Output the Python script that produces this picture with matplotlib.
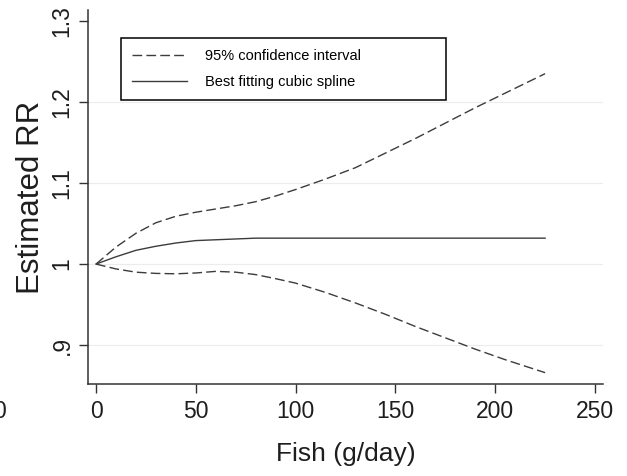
import matplotlib
matplotlib.use("Agg")
import matplotlib.pyplot as plt

# values
fish = [0, 10, 20, 30, 40, 50, 60, 70, 80, 90, 100, 115, 130, 145, 160, 175, 190, 205, 225]
ci_upper = [1.000, 1.021, 1.038, 1.051, 1.059, 1.064, 1.068, 1.072, 1.077, 1.084, 1.092,
            1.105, 1.119, 1.137, 1.155, 1.174, 1.193, 1.211, 1.235]
spline = [1.000, 1.009, 1.017, 1.022, 1.026, 1.029, 1.030, 1.031, 1.032, 1.032, 1.032,
          1.032, 1.032, 1.032, 1.032, 1.032, 1.032, 1.032, 1.032]
ci_lower = [1.000, 0.994, 0.990, 0.9885, 0.988, 0.989, 0.991, 0.990, 0.987, 0.982, 0.9765,
            0.965, 0.952, 0.938, 0.923, 0.909, 0.895, 0.882, 0.866]

xticks = [0, 50, 100, 150, 200, 250]
yticks = [0.9, 1.0, 1.1, 1.2, 1.3]
yticklabels = [".9", "1", "1.1", "1.2", "1.3"]

plt.rcParams['font.family'] = ['Liberation Sans', 'DejaVu Sans']

LINE = '#3c3c3c'
AXIS = '#333333'
TEXT = '#1e1e1e'

fig = plt.figure(figsize=(6.27, 4.76), dpi=100)
ax = fig.add_axes([0.1404, 0.1933, 0.8213, 0.7857])

ax.plot(fish, ci_upper, color=LINE, lw=1.0, dashes=(7, 3), label='95% confidence interval')
ax.plot(fish, ci_lower, color=LINE, lw=1.0, dashes=(7, 3))
ax.plot(fish, spline, color=LINE, lw=1.0, label='Best fitting cubic spline')

ax.set_xlim(-4, 254)
ax.set_ylim(0.852, 1.3136)

ax.set_xticks(xticks)
ax.set_yticks(yticks)
ax.set_yticklabels(yticklabels, rotation=90, va='center')

ax.grid(axis='y', color='#ececec', lw=0.8)
ax.get_ygridlines()[-1].set_visible(False)
ax.set_axisbelow(True)

for side in ['top', 'right']:
    ax.spines[side].set_visible(False)
for side in ['left', 'bottom']:
    ax.spines[side].set_color(AXIS)
    ax.spines[side].set_linewidth(1.1)

ax.tick_params(axis='both', colors=AXIS, length=6.5, width=1.0, labelsize=16.5,
               labelcolor=TEXT)
ax.tick_params(axis='x', pad=5)
ax.tick_params(axis='y', pad=4)

ax.set_xlabel('Fish (g/day)', fontsize=19, color=TEXT, labelpad=14)
ax.set_ylabel('Estimated RR', fontsize=22.5, color=TEXT, labelpad=3)

leg = ax.legend(loc='upper left', bbox_to_anchor=(0.064, 0.762, 0.631, 0.163),
                mode='expand', borderaxespad=0, fontsize=10.5, handlelength=3.8,
                handletextpad=1.2, borderpad=0.75, labelspacing=0.85,
                fancybox=False, framealpha=1)
leg.get_frame().set_edgecolor('black')
leg.get_frame().set_linewidth(1.1)

# cut-off tick label of the neighbouring panel at the left edge
fig.text(0.0, 0.135, '0', fontsize=16.5, ha='center', va='center', color=TEXT)

fig.savefig('out.png', dpi=100)
